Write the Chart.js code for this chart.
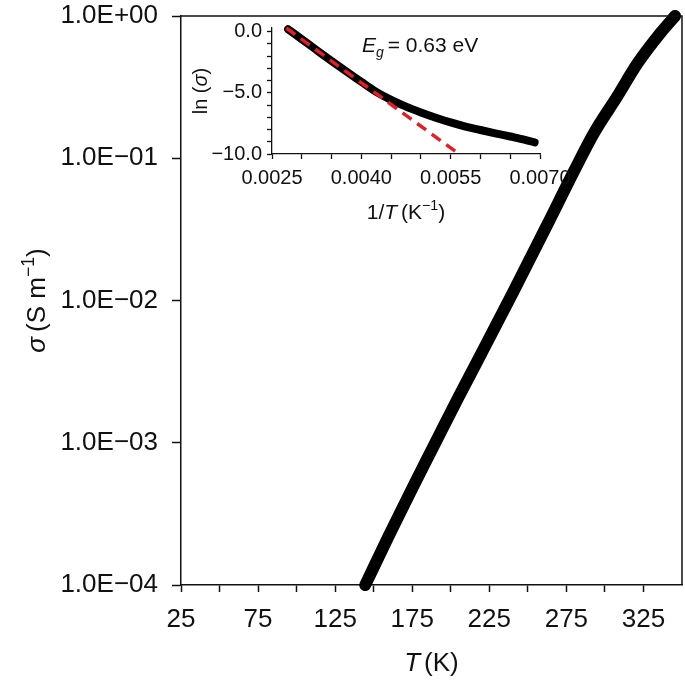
<!DOCTYPE html>
<html><head><meta charset="utf-8">
<script src="https://cdn.jsdelivr.net/npm/chart.js@4.4.1/dist/chart.umd.min.js"></script>
<style>
html,body{margin:0;padding:0;background:#fff;}
#wrap{position:relative;width:685px;height:682px;overflow:hidden;}
#main{position:absolute;left:0;top:0;}
#inset{position:absolute;left:170px;top:0;}
</style></head><body>
<div id="wrap"><canvas id="main" width="685" height="682"></canvas><canvas id="inset" width="420" height="230"></canvas></div>
<script>
// ---- Main plot data: conductivity vs temperature ----
const temperatureK = [144.5, 160, 175.5, 190, 205, 220, 240, 262, 280, 293, 308, 321, 336, 345.5];
const conductivity = [1.0e-4, 2.24e-4, 4.90e-4, 1.00e-3, 2.09e-3, 4.27e-3, 1.12e-2, 3.31e-2, 8.13e-2, 0.151, 0.272, 0.462, 0.759, 1.0];
const mainXTicks = [25, 50, 75, 100, 125, 150, 175, 200, 225, 250, 275, 300, 325];
const mainXTickLabels = ['25', '75', '125', '175', '225', '275', '325'];
const mainYTicks = [1e-4, 1e-3, 1e-2, 1e-1, 1];
const mainYTickLabels = ['1.0E\u221204', '1.0E\u221203', '1.0E\u221202', '1.0E\u221201', '1.0E+00'];

// ---- Inset data: ln(sigma) vs 1/T ----
const inverseT = [0.00277, 0.00300, 0.00325, 0.00350, 0.00375, 0.00400, 0.00425, 0.00450, 0.00475, 0.00500, 0.00525, 0.00550, 0.00575, 0.00600, 0.00625, 0.00650, 0.00675, 0.00691];
const lnSigma = [0.2, -0.62, -1.51, -2.39, -3.25, -4.10, -4.92, -5.58, -6.13, -6.60, -7.03, -7.42, -7.76, -8.04, -8.31, -8.57, -8.84, -9.05];
const fitInverseT = [0.00274, 0.00564];
const fitLnSigma = [0.3, -10.0];
const insetXTicks = [0.0025, 0.0030, 0.0035, 0.0040, 0.0045, 0.0050, 0.0055, 0.0060, 0.0065, 0.0070];
const insetXTickLabels = ['0.0025', '0.0040', '0.0055', '0.0070'];
const insetYTicks = [-10, -9, -8, -7, -6, -5, -4, -3, -2, -1, 0];
const insetYTickLabels = ['\u221210.0', '\u22125.0', '0.0'];
const annotationPos = {x: 0.00401, y: -1.66};

const FONT = "'Liberation Sans', Arial, Helvetica, sans-serif";
const INK = '#111';

function drawPieces(ctx, pieces, cx, cy, size, rotate) {
  ctx.save();
  ctx.translate(cx, cy);
  if (rotate) ctx.rotate(-Math.PI / 2);
  ctx.fillStyle = INK;
  ctx.textBaseline = 'alphabetic';
  let total = 0;
  const widths = pieces.map(p => {
    const s = p.sup || p.sub ? size * 0.68 : size;
    ctx.font = (p.italic ? 'italic ' : '') + s + 'px ' + FONT;
    const w = ctx.measureText(p.t).width;
    total += w + (p.gap || 0);
    return w;
  });
  let x = -total / 2;
  const base = size * 0.36;
  pieces.forEach((p, i) => {
    const s = p.sup || p.sub ? size * 0.68 : size;
    ctx.font = (p.italic ? 'italic ' : '') + s + 'px ' + FONT;
    let y = base;
    if (p.sup) y -= size * 0.42;
    if (p.sub) y += size * 0.25;
    ctx.fillText(p.t, x, y);
    x += widths[i] + (p.gap || 0);
  });
  ctx.restore();
}

const mainDecor = {
  id: 'mainDecor',
  afterDraw(chart) {
    const ctx = chart.ctx, a = chart.chartArea;
    ctx.save();
    ctx.strokeStyle = INK;
    ctx.lineWidth = 1.5;
    ctx.beginPath();
    ctx.moveTo(a.left, a.top);
    ctx.lineTo(a.right, a.top);
    ctx.lineTo(a.right, a.bottom);
    ctx.stroke();
    ctx.restore();
    drawPieces(ctx, [{t: 'T', italic: true, gap: 4}, {t: '(K)'}], (a.left + a.right) / 2, 662, 26, false);
    drawPieces(ctx, [{t: '\u03C3', italic: true, gap: 5}, {t: '(S m'}, {t: '\u22121', sup: true}, {t: ')'}], 36, (a.top + a.bottom) / 2, 26, true);
  }
};

new Chart(document.getElementById('main'), {
  type: 'line',
  data: {
    datasets: [{
      data: temperatureK.map((t, i) => ({x: t, y: conductivity[i]})),
      borderColor: '#000',
      borderWidth: 12,
      borderCapStyle: 'round',
      borderJoinStyle: 'round',
      pointRadius: 0,
      cubicInterpolationMode: 'monotone',
      clip: false
    }]
  },
  options: {
    responsive: false,
    devicePixelRatio: 1,
    animation: false,
    events: [],
    layout: {padding: {left: 0, right: 3, top: 16, bottom: 0}},
    plugins: {legend: {display: false}, tooltip: {enabled: false}},
    scales: {
      x: {
        type: 'linear', min: 25, max: 350,
        afterBuildTicks: s => { s.ticks = mainXTicks.map(v => ({value: v})); },
        afterFit: s => { s.height = 97; s.paddingLeft = 0; s.paddingRight = 0; },
        grid: {display: true, drawOnChartArea: false, drawTicks: true, tickLength: 7, color: INK, tickWidth: 1.5},
        border: {display: true, color: INK, width: 1.5},
        ticks: {
          autoSkip: false, maxRotation: 0, padding: 12, color: INK,
          font: {family: FONT, size: 26},
          callback: (v, i) => (i % 2 === 0 ? mainXTickLabels[i / 2] : '')
        }
      },
      y: {
        type: 'logarithmic', min: 1e-4, max: 1,
        afterBuildTicks: s => { s.ticks = mainYTicks.map(v => ({value: v})); },
        afterFit: s => { s.width = 181; s.paddingTop = 0; s.paddingBottom = 0; },
        grid: {display: true, drawOnChartArea: false, drawTicks: true, tickLength: 9, color: INK, tickWidth: 1.5},
        border: {display: true, color: INK, width: 1.5},
        ticks: {
          autoSkip: false, padding: 14, color: INK,
          font: {family: FONT, size: 26},
          callback: (v, i) => mainYTickLabels[i]
        }
      }
    }
  },
  plugins: [mainDecor]
});

const insetDecor = {
  id: 'insetDecor',
  afterDraw(chart) {
    const ctx = chart.ctx, a = chart.chartArea;
    drawPieces(ctx, [{t: '1/'}, {t: 'T', italic: true, gap: 4}, {t: '(K'}, {t: '\u22121', sup: true}, {t: ')'}], (a.left + a.right) / 2, 211, 21, false);
    drawPieces(ctx, [{t: 'ln (', gap: 0}, {t: '\u03C3', italic: true}, {t: ')'}], 30, (a.top + a.bottom) / 2, 20, true);
    const px = chart.scales.x.getPixelForValue(annotationPos.x);
    const py = chart.scales.y.getPixelForValue(annotationPos.y);
    ctx.save();
    ctx.fillStyle = INK;
    ctx.textBaseline = 'alphabetic';
    let x = px;
    ctx.font = 'italic 21px ' + FONT;
    ctx.fillText('E', x, py); x += ctx.measureText('E').width;
    ctx.font = 'italic 14px ' + FONT;
    ctx.fillText('g', x, py + 5); x += ctx.measureText('g').width + 4;
    ctx.font = '21px ' + FONT;
    ctx.fillText('= 0.63 eV', x, py);
    ctx.restore();
  }
};

new Chart(document.getElementById('inset'), {
  type: 'line',
  data: {
    datasets: [{
      data: fitInverseT.map((t, i) => ({x: t, y: fitLnSigma[i]})),
      borderColor: 'rgb(232,28,36)',
      borderWidth: 3.5,
      borderDash: [11, 7],
      pointRadius: 0,
      order: 0,
      clip: false
    }, {
      data: inverseT.map((t, i) => ({x: t, y: lnSigma[i]})),
      borderColor: '#000',
      borderWidth: 8,
      borderCapStyle: 'round',
      borderJoinStyle: 'round',
      pointRadius: 0,
      cubicInterpolationMode: 'monotone',
      order: 1,
      clip: false
    }]
  },
  options: {
    responsive: false,
    devicePixelRatio: 1,
    animation: false,
    events: [],
    layout: {padding: {left: 0, right: 50, top: 28, bottom: 0}},
    plugins: {legend: {display: false}, tooltip: {enabled: false}},
    scales: {
      x: {
        type: 'linear', min: 0.0025, max: 0.0070,
        afterBuildTicks: s => { s.ticks = insetXTicks.map(v => ({value: v})); },
        afterFit: s => { s.height = 76; s.paddingLeft = 0; s.paddingRight = 0; },
        grid: {display: true, drawOnChartArea: false, drawTicks: true, tickLength: 5, color: INK, tickWidth: 1.3},
        border: {display: true, color: INK, width: 1.3},
        ticks: {
          autoSkip: false, maxRotation: 0, padding: 7, color: INK,
          font: {family: FONT, size: 20},
          callback: (v, i) => (i % 3 === 0 ? insetXTickLabels[i / 3] : '')
        }
      },
      y: {
        type: 'linear', min: -10, max: 0.3,
        afterBuildTicks: s => { s.ticks = insetYTicks.map(v => ({value: v})); },
        afterFit: s => { s.width = 102; s.paddingTop = 0; s.paddingBottom = 0; },
        grid: {display: true, drawOnChartArea: false, drawTicks: true, tickLength: 5, color: INK, tickWidth: 1.3},
        border: {display: true, color: INK, width: 1.3},
        ticks: {
          autoSkip: false, padding: 5, color: INK,
          font: {family: FONT, size: 20},
          callback: (v, i) => (i % 5 === 0 ? insetYTickLabels[i / 5] : '')
        }
      }
    }
  },
  plugins: [insetDecor]
});
</script>
</body></html>
